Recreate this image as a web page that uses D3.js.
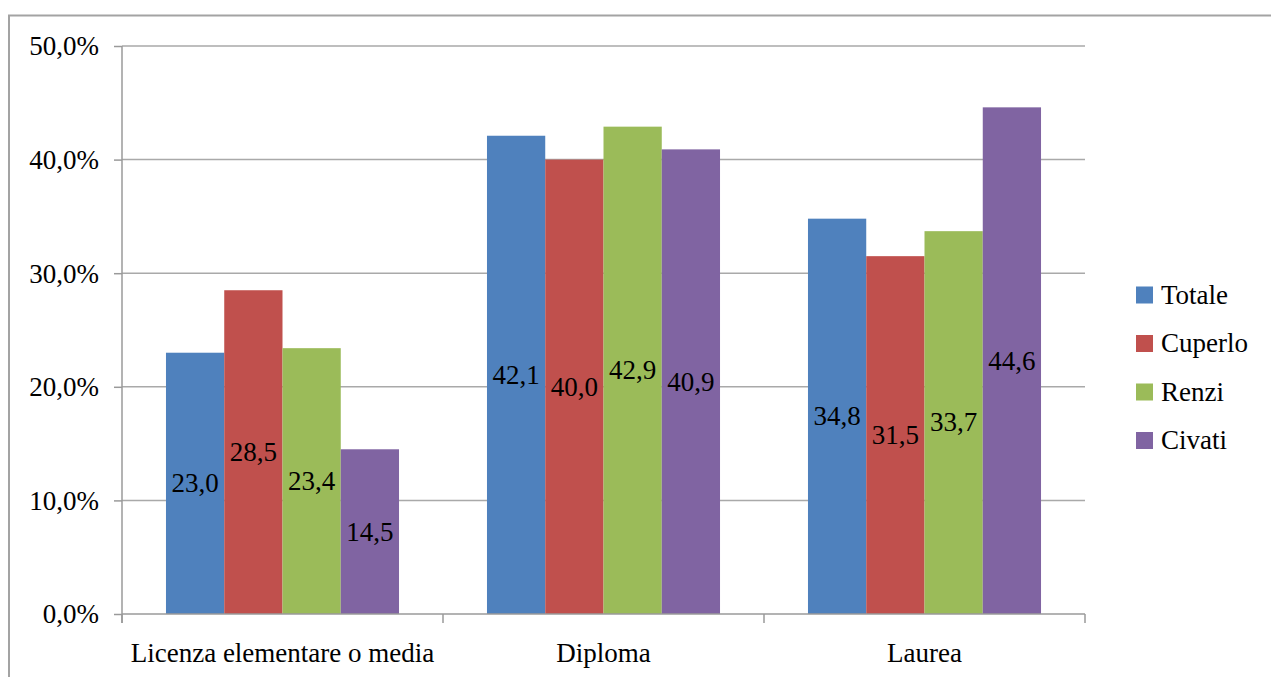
<!DOCTYPE html>
<html>
<head>
<meta charset="utf-8">
<script src="https://cdn.jsdelivr.net/npm/d3@7"></script>
<style>
  html, body { margin: 0; padding: 0; background: #fff; }
  svg { display: block; }
</style>
</head>
<body>
<svg id="chart" width="1271" height="677"></svg>
<script>
// Titolo di studio per elettorato (%)
const categories = ["Licenza elementare o media", "Diploma", "Laurea"];
const seriesNames = ["Totale", "Cuperlo", "Renzi", "Civati"];
const totale  = [23.0, 42.1, 34.8];
const cuperlo = [28.5, 40.0, 31.5];
const renzi   = [23.4, 42.9, 33.7];
const civati  = [14.5, 40.9, 44.6];
const yTicks = [0, 10, 20, 30, 40, 50];
const colors = ["#4F81BD", "#C0504D", "#9BBB59", "#8064A2"];

const seriesValues = [totale, cuperlo, renzi, civati];
const rows = [];
categories.forEach((c, ci) => {
  seriesNames.forEach((s, si) => rows.push({ cat: c, series: s, value: seriesValues[si][ci], color: colors[si] }));
});

const svg = d3.select("#chart");
const plot = { left: 122, right: 1085, top: 46, bottom: 614 };
const fontSize = 27;
const serif = '"Liberation Serif", "Times New Roman", Tinos, serif';
const fmt = v => v.toFixed(1).replace(".", ",");
const styleText = sel => sel.style("font-family", serif).style("font-size", fontSize + "px").attr("fill", "#000");

// outer frame (open to the right and bottom)
svg.append("path")
  .attr("d", "M9,677 L9,15.5 L1271,15.5")
  .attr("fill", "none").attr("stroke", "#a3a3a3").attr("stroke-width", 2);

const y = d3.scaleLinear().domain([0, 50]).range([plot.bottom, plot.top]);
const x0 = d3.scaleBand().domain(categories).range([plot.left, plot.right])
  .paddingInner(0.274).paddingOuter(0.137);
const x1 = d3.scaleBand().domain(seriesNames).range([0, x0.bandwidth()]).padding(0);

// gridlines
svg.append("g").selectAll("line").data(yTicks.filter(t => t > 0)).join("line")
  .attr("x1", plot.left).attr("x2", plot.right)
  .attr("y1", d => y(d)).attr("y2", d => y(d))
  .attr("stroke", "#a9a9a9").attr("stroke-width", 1.5);

// y axis
const yAxis = svg.append("g").attr("transform", `translate(${plot.left},0)`)
  .call(d3.axisLeft(y).tickValues(yTicks).tickSize(8).tickPadding(15)
    .tickFormat(d => fmt(d) + "%"));
yAxis.attr("font-family", null).attr("font-size", null);
yAxis.select(".domain").attr("d", `M0,${plot.top}V${plot.bottom + 9}`)
  .attr("stroke", "#9a9a9a").attr("stroke-width", 1.5);
yAxis.selectAll(".tick line").attr("stroke", "#9a9a9a").attr("stroke-width", 1.5);
yAxis.selectAll(".tick text").call(styleText).attr("dy", "0.33em");

// bars
const groups = svg.append("g").selectAll("g").data(categories).join("g")
  .attr("transform", d => `translate(${x0(d)},0)`);
groups.selectAll("rect").data(c => rows.filter(r => r.cat === c)).join("rect")
  .attr("x", d => x1(d.series)).attr("width", x1.bandwidth())
  .attr("y", d => y(d.value)).attr("height", d => y(0) - y(d.value))
  .attr("fill", d => d.color);

// data labels at bar mid-height
groups.selectAll("text").data(c => rows.filter(r => r.cat === c)).join("text")
  .attr("x", d => x1(d.series) + x1.bandwidth() / 2)
  .attr("y", d => (y(d.value) + y(0)) / 2)
  .attr("dy", "0.33em")
  .attr("text-anchor", "middle")
  .call(styleText)
  .text(d => fmt(d.value));

// x axis
const xAxisG = svg.append("g").attr("transform", `translate(0,${plot.bottom})`);
xAxisG.append("line").attr("x1", plot.left).attr("x2", plot.right)
  .attr("stroke", "#9a9a9a").attr("stroke-width", 1.5);
const step = x0.step();
xAxisG.selectAll("line.sep").data(d3.range(categories.length + 1)).join("line")
  .attr("class", "sep")
  .attr("x1", i => plot.left + i * step).attr("x2", i => plot.left + i * step)
  .attr("y1", 0).attr("y2", 9)
  .attr("stroke", "#9a9a9a").attr("stroke-width", 1.5);
xAxisG.selectAll("text").data(categories).join("text")
  .attr("x", d => x0(d) + x0.bandwidth() / 2)
  .attr("y", 48)
  .attr("text-anchor", "middle")
  .call(styleText)
  .text(d => d);

// legend
const legend = svg.append("g").attr("transform", "translate(1136,295)");
const li = legend.selectAll("g").data(seriesNames).join("g")
  .attr("transform", (d, i) => `translate(0,${i * 48.5})`);
li.append("rect").attr("x", 0).attr("y", -8.5).attr("width", 17).attr("height", 17)
  .attr("fill", (d, i) => colors[i]);
li.append("text").attr("x", 25).attr("y", 0).attr("dy", "0.33em")
  .call(styleText).text(d => d);
</script>
</body>
</html>
